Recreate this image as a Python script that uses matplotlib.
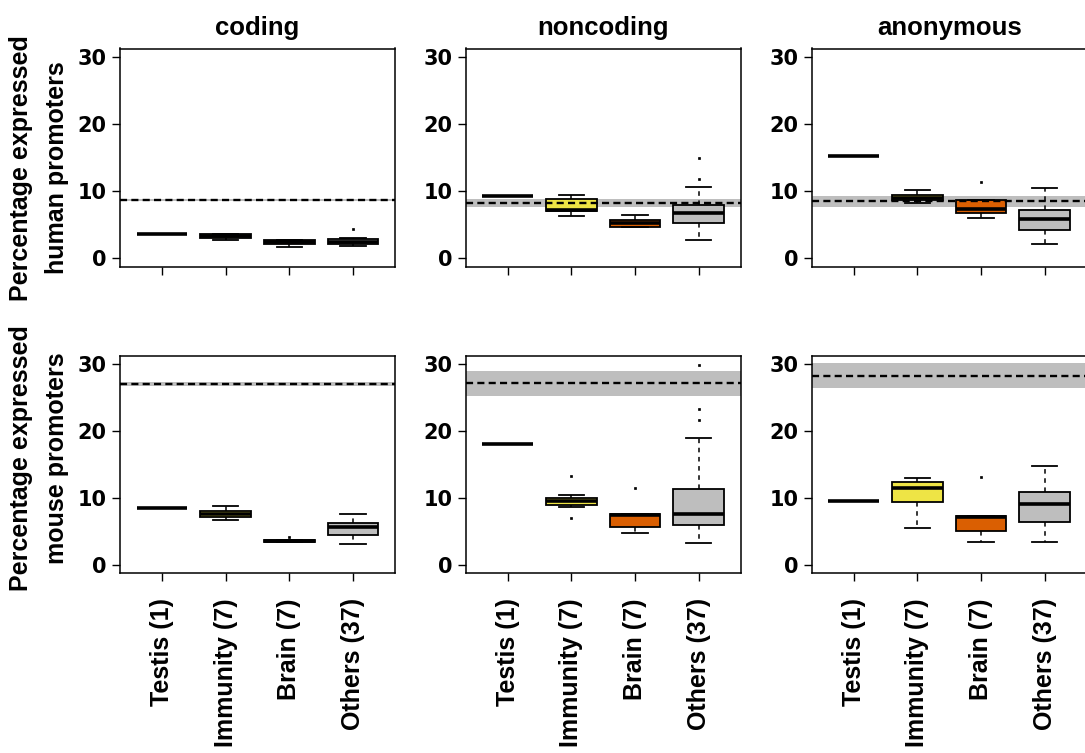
import matplotlib
matplotlib.use("Agg")
import matplotlib.pyplot as plt

plt.rcParams['font.family'] = ['Liberation Sans', 'DejaVu Sans']
plt.rcParams['font.weight'] = 'bold'

categories = ["Testis (1)", "Immunity (7)", "Brain (7)", "Others (37)"]
panel_titles = ["coding", "noncoding", "anonymous"]
row_labels = ["Percentage expressed\nhuman promoters",
              "Percentage expressed\nmouse promoters"]
box_colors = ["#000000", "#EEE445", "#DA5F02", "#BEBEBE"]
y_ticks = [0, 10, 20, 30]

# five-number summaries per category: [lower whisker, q1, median, q3, upper whisker]
human_coding = [[3.6, 3.6, 3.6, 3.6, 3.6],
                [2.7, 3.1, 3.4, 3.6, 3.6],
                [1.65, 2.2, 2.5, 2.8, 2.8],
                [1.85, 2.15, 2.5, 2.85, 3.1]]
human_noncoding = [[9.35, 9.35, 9.35, 9.35, 9.35],
                   [6.3, 7.1, 7.2, 8.9, 9.5],
                   [4.7, 4.7, 5.3, 5.7, 6.5],
                   [2.75, 5.3, 6.75, 7.9, 10.55]]
human_anonymous = [[15.2, 15.2, 15.2, 15.2, 15.2],
                   [8.25, 8.65, 9.0, 9.45, 10.1],
                   [5.95, 6.8, 7.3, 8.65, 8.7],
                   [2.15, 4.25, 5.8, 7.25, 10.5]]
mouse_coding = [[8.45, 8.45, 8.45, 8.45, 8.45],
                [6.7, 7.15, 7.6, 8.1, 8.8],
                [3.45, 3.45, 3.6, 3.8, 3.8],
                [3.2, 4.5, 5.6, 6.3, 7.65]]
mouse_noncoding = [[18.05, 18.05, 18.05, 18.05, 18.05],
                   [8.7, 8.95, 9.55, 10.0, 10.5],
                   [4.8, 5.65, 7.5, 7.65, 7.65],
                   [3.3, 5.95, 7.65, 11.4, 19.0]]
mouse_anonymous = [[9.55, 9.55, 9.55, 9.55, 9.55],
                   [5.5, 9.35, 11.5, 12.4, 13.05],
                   [3.5, 5.05, 7.2, 7.35, 7.35],
                   [3.5, 6.4, 9.1, 10.9, 14.8]]

# outliers per category
human_coding_out = [[], [], [], [4.3]]
human_noncoding_out = [[], [], [], [11.75, 15.0]]
human_anonymous_out = [[], [], [11.3], []]
mouse_coding_out = [[], [], [4.2], []]
mouse_noncoding_out = [[], [13.3, 7.0], [11.5], [21.7, 23.3, 29.9]]
mouse_anonymous_out = [[], [], [13.2], []]

# background reference: [band low, dashed line, band high]
human_ref = [[8.55, 8.7, 8.85], [7.7, 8.26, 8.85], [7.7, 8.6, 9.25]]
mouse_ref = [[26.7, 27.05, 27.3], [25.3, 27.1, 28.95], [26.45, 28.2, 30.1]]

summaries = [[human_coding, human_noncoding, human_anonymous],
             [mouse_coding, mouse_noncoding, mouse_anonymous]]
outliers = [[human_coding_out, human_noncoding_out, human_anonymous_out],
            [mouse_coding_out, mouse_noncoding_out, mouse_anonymous_out]]
refs = [human_ref, mouse_ref]

W, H = 1085, 753
fig = plt.figure(figsize=(W / 100, H / 100), dpi=100)

col_left_px = [120, 465.7, 811.7]
col_width_px = 275
row_top_px = [48.5, 356]
row_height_px = [218, 217]

for r in range(2):
    for c in range(3):
        left = col_left_px[c] / W
        bottom = 1 - (row_top_px[r] + row_height_px[r]) / H
        ax = fig.add_axes([left, bottom, col_width_px / W, row_height_px[r] / H])
        stats = []
        for k, s in enumerate(summaries[r][c]):
            stats.append(dict(whislo=s[0], q1=s[1], med=s[2], q3=s[3],
                              whishi=s[4], fliers=outliers[r][c][k],
                              label=categories[k]))
        positions = list(range(1, len(categories) + 1))
        bp = ax.bxp(stats, positions=positions, widths=0.8, patch_artist=True,
                    showfliers=True,
                    boxprops=dict(edgecolor="black", linewidth=1.3),
                    medianprops=dict(color="black", linewidth=2.6, solid_capstyle="butt"),
                    whiskerprops=dict(color="black", linewidth=1.1, linestyle=(0, (3, 3))),
                    capprops=dict(color="black", linewidth=1.3),
                    capwidths=0.4,
                    flierprops=dict(marker="s", markersize=1.5, markerfacecolor="black",
                                    markeredgecolor="black", markeredgewidth=0.5,
                                    linestyle="none"),
                    zorder=2)
        for patch, col in zip(bp["boxes"], box_colors):
            patch.set_facecolor(col)
        lo, mid, hi = refs[r][c]
        ax.axhspan(lo, hi, color="#BEBEBE", lw=0, zorder=0.5)
        ax.axhline(mid, color="black", lw=1.7, linestyle=(0, (3.0, 1.8)), zorder=3)

        ax.set_xlim(0.34, 4.66)
        ax.set_ylim(-1.2, 31.2)
        ax.set_yticks(y_ticks)
        ax.set_yticklabels([str(t) for t in y_ticks], fontsize=15, fontweight="bold",
                           family=["DejaVu Sans"])
        ax.set_xticks(positions)
        if r == 1:
            ax.set_xticklabels(categories, rotation=90, fontsize=18,
                               fontweight="bold", va="top", ha="center")
        else:
            ax.set_xticklabels([])
        ax.tick_params(axis="y", length=6, width=1, pad=3.5)
        ax.tick_params(axis="x", length=6, width=1, pad=12)
        for sp in ax.spines.values():
            sp.set_linewidth(1.1)
        if r == 0:
            ax.set_title(panel_titles[c], fontsize=18.5, fontweight="bold", pad=10)

# row labels
row_label_y_px = [168, 458]
for r in range(2):
    l1, l2 = row_labels[r].split("\n")
    yc = 1 - row_label_y_px[r] / H
    fig.text(21 / W, yc, l1, rotation=90, ha="center", va="center",
             fontsize=18, fontweight="bold")
    fig.text(57 / W, yc, l2, rotation=90, ha="center", va="center",
             fontsize=18, fontweight="bold")

fig.savefig("out.png", dpi=100)
